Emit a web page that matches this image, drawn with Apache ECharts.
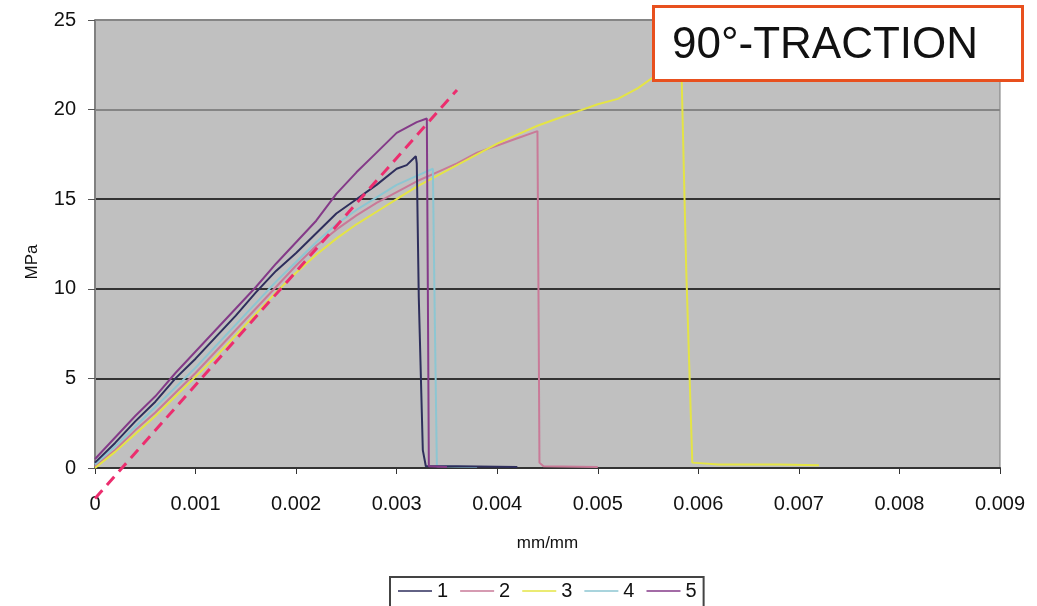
<!DOCTYPE html>
<html>
<head>
<meta charset="utf-8">
<script src="https://cdn.jsdelivr.net/npm/echarts@6/dist/echarts.min.js"></script>
<style>
html,body{margin:0;padding:0;background:#fff;}
#chart{width:1037px;height:606px;}
</style>
</head>
<body>
<div id="chart"></div>
<script>
// ---- data (strain mm/mm, stress MPa) ----
const xTicks = [0, 0.001, 0.002, 0.003, 0.004, 0.005, 0.006, 0.007, 0.008, 0.009];
const yTicks = [0, 5, 10, 15, 20, 25];
const seriesNames = ['1', '2', '3', '4', '5'];

const curve1 = [[0,0.3],[0.0002,1.4],[0.0004,2.6],[0.0006,3.7],[0.0008,5.0],[0.001,6.1],[0.0012,7.3],[0.0014,8.5],[0.0016,9.8],[0.0018,11.0],[0.002,12.0],[0.0022,13.1],[0.0024,14.2],[0.0026,15.0],[0.0028,15.8],[0.003,16.7],[0.0031,16.9],[0.00319,17.4],[0.0032,17.0],[0.00322,9.5],[0.00326,1.0],[0.00329,0.1],[0.0036,0.1],[0.0042,0.05]];
const curve2 = [[0,0.1],[0.0002,1.0],[0.0004,2.1],[0.0006,3.1],[0.0008,4.2],[0.001,5.3],[0.0012,6.5],[0.0014,7.7],[0.0016,8.9],[0.0018,10.1],[0.002,11.3],[0.0022,12.4],[0.0024,13.3],[0.0026,14.1],[0.0028,14.8],[0.003,15.4],[0.0032,16.0],[0.0034,16.5],[0.0036,17.0],[0.0038,17.6],[0.004,18.0],[0.0042,18.4],[0.0044,18.8],[0.00441,10],[0.00442,0.3],[0.00446,0.1],[0.005,0.05]];
const curve3 = [[0,0],[0.0002,0.9],[0.0004,1.9],[0.0006,2.9],[0.0008,4.0],[0.001,5.1],[0.0012,6.2],[0.0014,7.4],[0.0016,8.6],[0.0018,9.8],[0.002,10.9],[0.0022,11.9],[0.0024,12.8],[0.0026,13.6],[0.0028,14.3],[0.003,15.0],[0.0032,15.7],[0.0034,16.3],[0.0036,16.9],[0.0038,17.5],[0.004,18.1],[0.0042,18.6],[0.0044,19.1],[0.0046,19.5],[0.0048,19.9],[0.005,20.3],[0.0052,20.6],[0.0054,21.2],[0.0056,22.0],[0.00583,22.7],[0.00588,11],[0.00594,0.3],[0.0062,0.2],[0.0068,0.2],[0.0072,0.15]];
const curve4 = [[0,0.2],[0.0002,1.2],[0.0004,2.3],[0.0006,3.4],[0.0008,4.5],[0.001,5.6],[0.0012,6.8],[0.0014,8.0],[0.0016,9.2],[0.0018,10.4],[0.002,11.5],[0.0022,12.6],[0.0024,13.6],[0.0026,14.4],[0.0028,15.1],[0.003,15.8],[0.0032,16.3],[0.00336,16.7],[0.00338,8],[0.0034,0.1],[0.0038,0.05]];
const curve5 = [[0,0.5],[0.0002,1.7],[0.0004,2.9],[0.0006,4.0],[0.0008,5.3],[0.001,6.5],[0.0012,7.7],[0.0014,8.9],[0.0016,10.1],[0.0018,11.4],[0.002,12.6],[0.0022,13.8],[0.0024,15.3],[0.0026,16.5],[0.0028,17.6],[0.003,18.7],[0.0032,19.3],[0.0033,19.5],[0.00331,10],[0.00332,0.1],[0.0035,0.05]];
const modulusLine = [[0,-1.7],[0.0036,21.1]];

const curves = [curve1, curve2, curve3, curve4, curve5];
const colors = ['#2e2e5c', '#c97a98', '#e4e445', '#8cc6d2', '#843a88'];

const chart = echarts.init(document.getElementById('chart'), null, {renderer: 'canvas'});

const series = curves.map((c, i) => ({
  name: seriesNames[i],
  type: 'line',
  data: c,
  symbol: 'none',
  lineStyle: {color: colors[i], width: 2},
  itemStyle: {color: colors[i]},
  z: 2 + (i === 0 ? 4 : i)
}));
series.push({
  name: 'modulus',
  type: 'line',
  data: modulusLine,
  symbol: 'none',
  clip: false,
  silent: true,
  lineStyle: {color: '#ec2d6e', width: 3, type: [11, 7]},
  z: 10
});

const labelFont = {fontFamily: 'Liberation Sans', fontSize: 20, color: '#111'};

chart.setOption({
  animation: false,
  backgroundColor: '#fff',
  grid: {left: 95, right: 37, top: 20, bottom: 138, show: true, backgroundColor: '#c0c0c0', borderColor: '#7a7a7a', borderWidth: 1},
  xAxis: {
    type: 'value', min: 0, max: 0.009, interval: 0.001,
    name: 'mm/mm', nameLocation: 'middle', nameGap: 67,
    nameTextStyle: {fontFamily: 'Liberation Sans', fontSize: 17, color: '#111'},
    axisLine: {show: true, lineStyle: {color: '#333', width: 2}},
    axisTick: {show: true, length: 6, lineStyle: {color: '#333'}},
    axisLabel: Object.assign({margin: 26, formatter: v => String(xTicks[Math.round(v / 0.001)])}, labelFont),
    splitLine: {show: false}
  },
  yAxis: {
    type: 'value', min: 0, max: 25, interval: 5,
    axisLine: {show: true, lineStyle: {color: '#808080', width: 2}},
    axisTick: {show: true, length: 7, lineStyle: {color: '#555'}},
    axisLabel: Object.assign({margin: 19, formatter: v => String(yTicks[Math.round(v / 5)])}, labelFont),
    splitLine: {show: true, lineStyle: {color: ['#333', '#333', '#333', '#333', '#858585', '#858585'], width: 2}}
  },
  legend: {
    data: seriesNames,
    left: 390, top: 577,
    itemWidth: 34, itemHeight: 10, itemGap: 12,
    padding: [4, 7, 8, 8],
    backgroundColor: '#fff', borderColor: '#444', borderWidth: 2,
    textStyle: {fontFamily: 'Liberation Sans', fontSize: 20, color: '#111'},
    icon: 'path://M0,4.5 L34,4.5 L34,6 L0,6 Z'
  },
  graphic: [
    {type: 'text', x: 32, y: 262, rotation: Math.PI / 2, z: 50,
      style: {text: 'MPa', fill: '#111', font: '17px "Liberation Sans"', align: 'center', verticalAlign: 'middle'}},
    {type: 'rect', left: 652, top: 5, z: 100, shape: {width: 369, height: 74}, style: {fill: '#fff', stroke: '#e8501e', lineWidth: 3}},
    {type: 'text', left: 672, top: 24, z: 101, style: {text: '90°-TRACTION', fill: '#111', font: '44px "Liberation Sans"'}}
  ],
  series: series
});
</script>
</body>
</html>
